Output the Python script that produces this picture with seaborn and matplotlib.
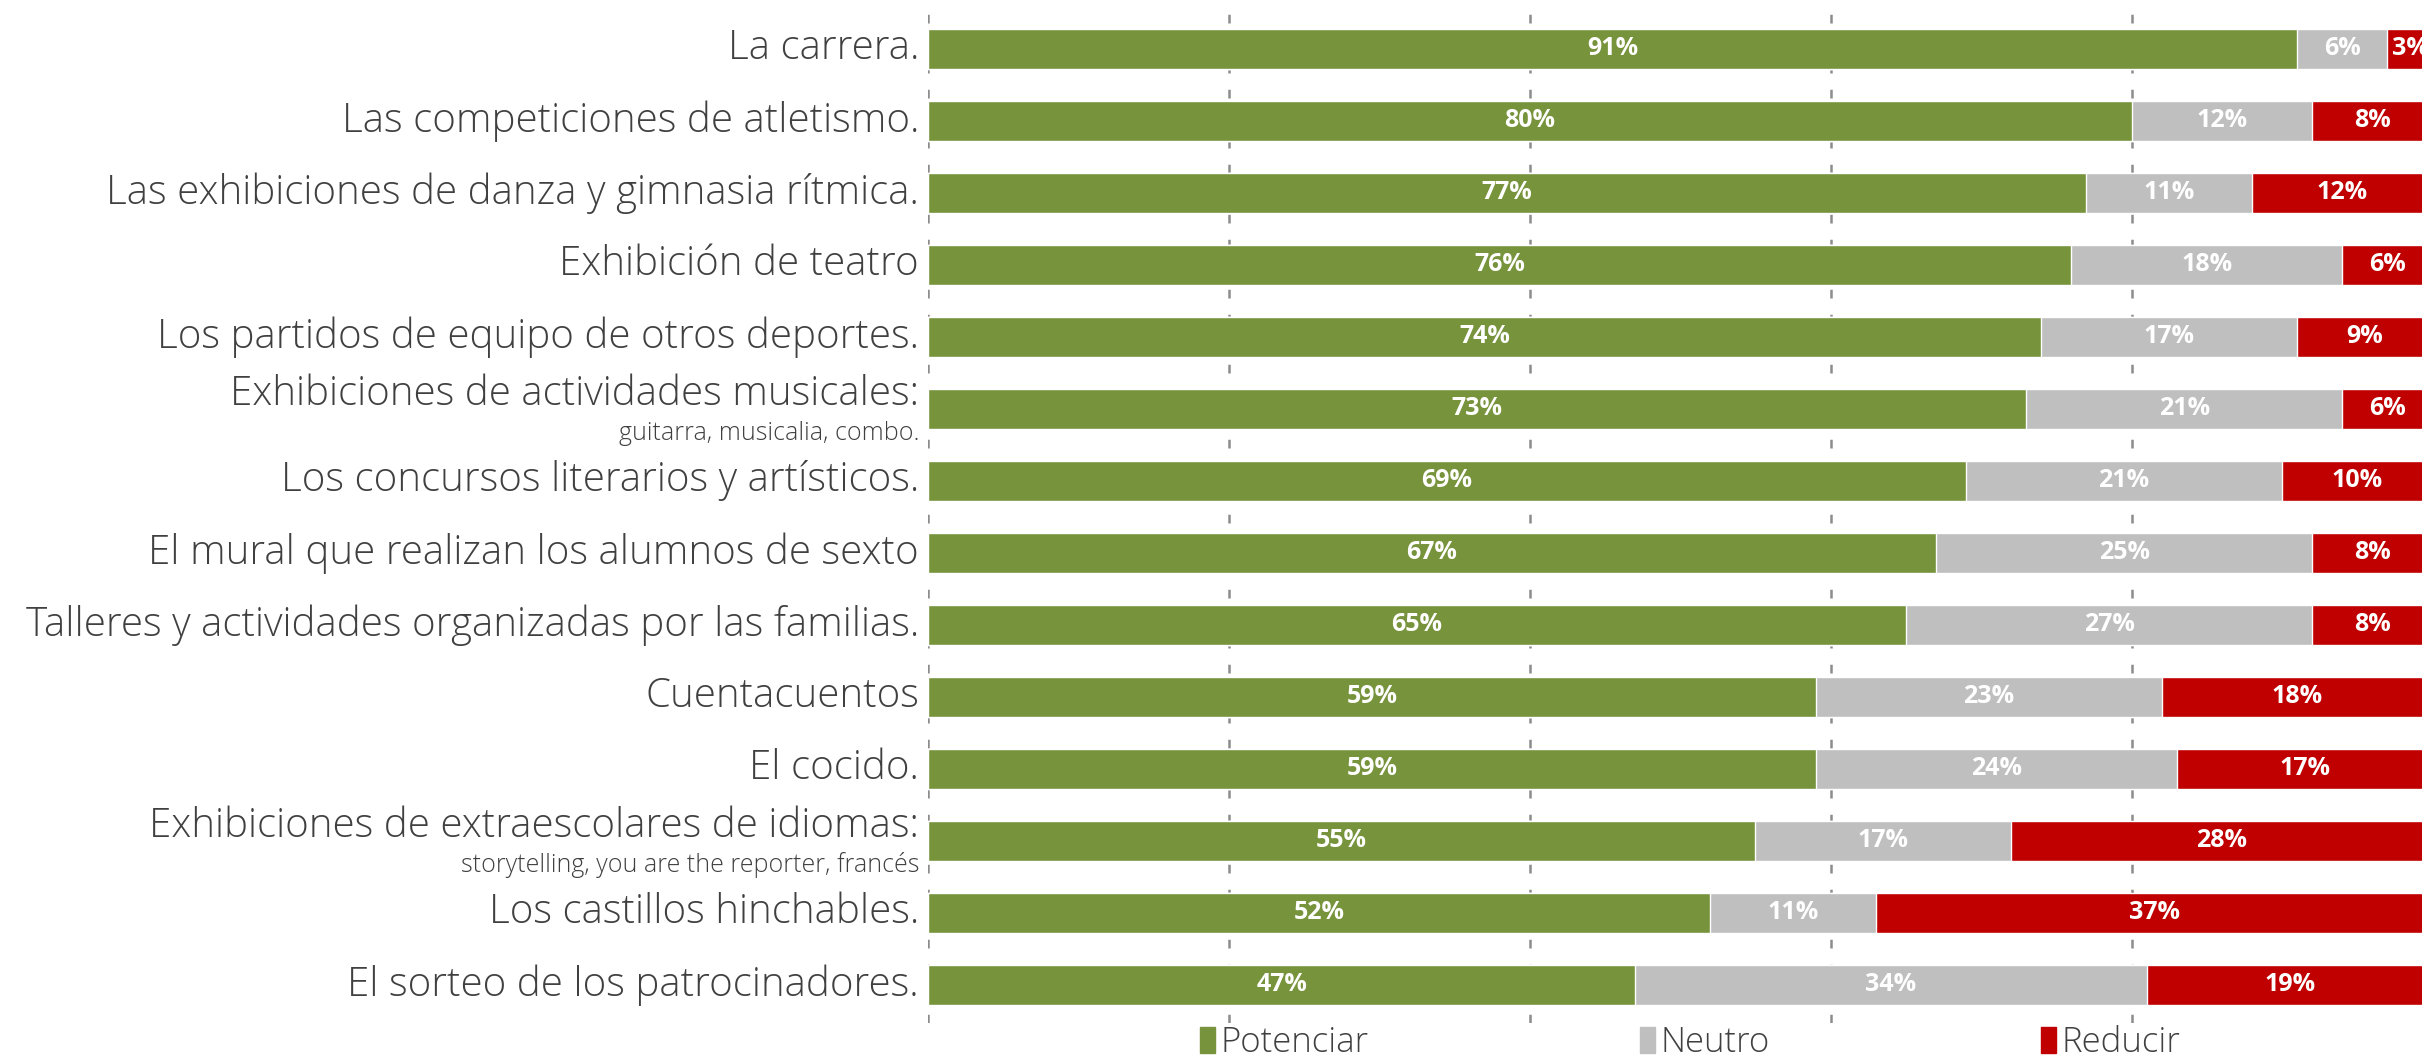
import matplotlib
matplotlib.use('Agg')
import matplotlib.pyplot as plt
import matplotlib.transforms as mtransforms
from matplotlib.patches import Patch
import numpy as np
import pandas as pd
import seaborn as sns

categories = [
    'La carrera.',
    'Las competiciones de atletismo.',
    'Las exhibiciones de danza y gimnasia rítmica.',
    'Exhibición de teatro',
    'Los partidos de equipo de otros deportes.',
    'Exhibiciones de actividades musicales:',
    'Los concursos literarios y artísticos.',
    'El mural que realizan los alumnos de sexto',
    'Talleres y actividades organizadas por las familias.',
    'Cuentacuentos',
    'El cocido.',
    'Exhibiciones de extraescolares de idiomas:',
    'Los castillos hinchables.',
    'El sorteo de los patrocinadores.',
]
sublabels = {
    5: 'guitarra, musicalia, combo.',
    11: 'storytelling, you are the reporter, francés',
}
potenciar = [91, 80, 77, 76, 74, 73, 69, 67, 65, 59, 59, 55, 52, 47]
neutro = [6, 12, 11, 18, 17, 21, 21, 25, 27, 23, 24, 17, 11, 34]
reducir = [3, 8, 12, 6, 9, 6, 10, 8, 8, 18, 17, 28, 37, 19]
series_names = ['Potenciar', 'Neutro', 'Reducir']
colors = ['#77933C', '#BFBFBF', '#C00000']

sns.set_style('white')
plt.rcParams['font.family'] = ['Open Sans', 'DejaVu Sans']

df = pd.DataFrame({'cat': categories, 'pot': potenciar, 'neu': neutro, 'red': reducir})
df['c1'] = df['pot']
df['c2'] = df['pot'] + df['neu']
df['c3'] = df['c2'] + df['red']

fig = plt.figure(figsize=(24.22, 10.56), dpi=100)
ax = fig.add_axes([928 / 2422, 1 - 1023 / 1056, 1 - 928 / 2422, (1023 - 13) / 1056])

# stacked bars drawn as overlapping cumulative totals
bw = 0.56
sns.barplot(data=df, y='cat', x='c3', color=colors[2], orient='h', width=bw, ax=ax, saturation=1, zorder=3)
sns.barplot(data=df, y='cat', x='c2', color=colors[1], orient='h', width=bw, ax=ax, saturation=1, zorder=3)
sns.barplot(data=df, y='cat', x='c1', color=colors[0], orient='h', width=bw, ax=ax, saturation=1, zorder=3)

ax.set_xlim(0, 99.3)
ax.set_ylim(len(categories) - 0.47, -0.5)
ax.set_xlabel('')
ax.set_ylabel('')
ax.set_xticks([0, 20, 40, 60, 80])
ax.set_xticklabels([])
ax.set_yticks([])
for s in ax.spines.values():
    s.set_visible(False)
ax.tick_params(left=False, bottom=False)
ax.grid(axis='x', color='#8C8C8C', linewidth=1.8, linestyle=(0, (3.5, 6.5)), zorder=0)
ax.grid(axis='y', visible=False)

# value labels
for i in range(len(categories)):
    starts = [0, df['c1'][i], df['c2'][i]]
    vals = [potenciar[i], neutro[i], reducir[i]]
    for s, v in zip(starts, vals):
        ax.text(s + v / 2, i, f'{v}%', ha='center', va='center', color='white',
                fontsize=18, fontweight='bold', zorder=5)

# category labels
trans = mtransforms.blended_transform_factory(ax.transAxes, ax.transData)
for i, c in enumerate(categories):
    if i in sublabels:
        ax.text(-0.006, i - 0.2, c, transform=trans, ha='right', va='center',
                fontsize=29, fontweight='light', color='#404040', clip_on=False)
        ax.text(-0.006, i + 0.34, sublabels[i], transform=trans, ha='right', va='center',
                fontsize=18, fontweight='light', color='#404040', clip_on=False)
    else:
        ax.text(-0.006, i, c, transform=trans, ha='right', va='center',
                fontsize=29, fontweight='light', color='#404040', clip_on=False)

handles = [Patch(facecolor=col, edgecolor=col) for col in colors]
fig.legend(handles, series_names, loc='center', bbox_to_anchor=(1690 / 2422, 1 - 1043 / 1056),
           ncol=3, frameon=False, handletextpad=0.15, columnspacing=7.8,
           labelcolor='#404040', handlelength=0.45, handleheight=0.75,
           prop={'weight': 'light', 'size': 25})

fig.savefig('out.png', dpi=100)
